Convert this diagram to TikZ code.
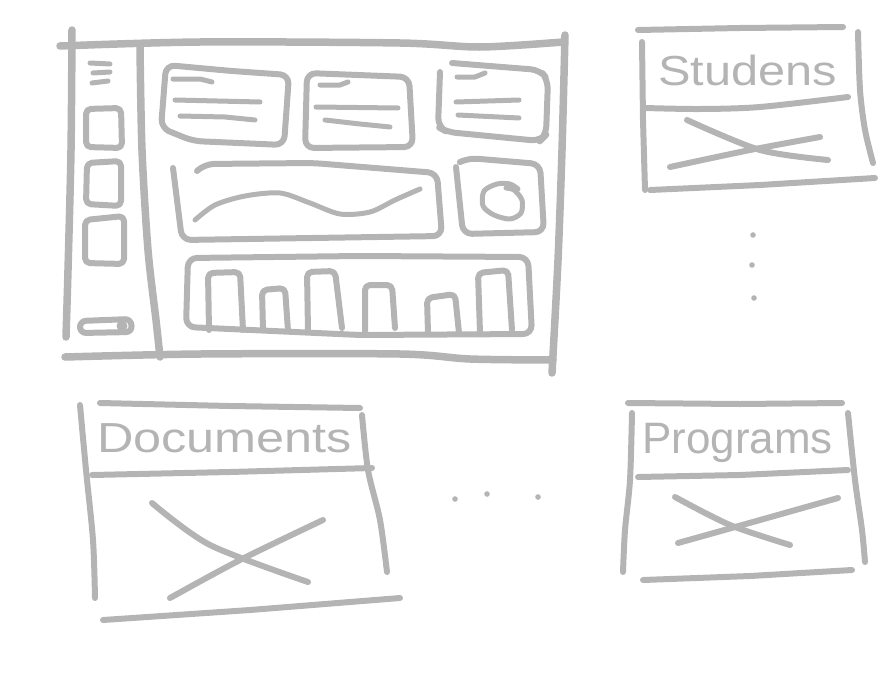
\documentclass[tikz,border=0pt]{standalone}
\usepackage{fontspec}
\usepackage{graphicx}
\setmainfont{Liberation Sans}
\definecolor{pencil}{RGB}{180,180,180}
\begin{document}
\begin{tikzpicture}[x=1pt,y=-1pt,
  stroke/.style={draw=pencil,line width=6pt,line cap=round,line join=round},
  heavy/.style={stroke,line width=7.5pt},
  fine/.style={stroke,line width=5pt},
  card/.style={stroke,rounded corners=9pt},
  bar/.style={stroke,rounded corners=5pt},
  handtext/.style={text=pencil,anchor=base west,inner sep=0pt},
  dot/.style={fill=pencil}]
\useasboundingbox (0,0) rectangle (896,672);

% ---------- dashboard wireframe ----------
% outer frame
\draw[heavy] plot[smooth] coordinates {(60,46) (200,42) (400,43) (480,47) (563,42)};
\draw[heavy] plot[smooth] coordinates {(72,30) (71,150) (68,270) (66,337)};
\draw[heavy] plot[smooth] coordinates {(65,357) (200,354) (400,354) (470,359) (553,360)};
\draw[heavy] plot[smooth] coordinates {(565,35) (562,150) (558,260) (552,373)};
% sidebar divider
\draw[heavy] plot[smooth] coordinates {(140,47) (142,150) (148,250) (156,320) (160,357)};

% sidebar: menu icon, items, toggle
\draw[fine] (90,63) -- (110,64);
\draw[fine] (93,73) -- (110,72);
\draw[fine] (92,83) -- (108,81);
\draw[card,rounded corners=5pt] (86,109) -- (121,108) -- (122,148) -- (86,147) -- cycle;
\draw[card,rounded corners=5pt] (87,163) -- (121,161) -- (121,206) -- (86,204) -- cycle;
\draw[card,rounded corners=5pt] (85,220) -- (124,216) -- (124,264) -- (85,263) -- cycle;
\draw[card,rounded corners=6pt] (80,321) -- (131,319) -- (132,332) -- (80,333) -- cycle;
\fill[dot] (122,326) circle (5.5);

% stat cards
\draw[card] (166,65) -- (232,71) -- (289,75) -- (284,145) -- (193,141) -- (161,128) -- cycle;
\draw[fine] (173,79) -- (200,79) -- (212,82);
\draw[fine] (175,100) -- (260,102);
\draw[fine] (180,116) -- (225,117) -- (255,120);

\draw[card] (307,73) -- (409,77) -- (413,147) -- (305,148) -- cycle;
\draw[fine] (320,85) -- (340,85) -- (348,82);
\draw[fine] (316,107) -- (398,108);
\draw[fine] (325,120) -- (360,124) -- (390,127);

\draw[card] (440,72) -- (438,127) -- (447,132) -- (540,141) -- (546,135) -- (548,80) -- (540,70) -- (452,63);
\draw[fine] (457,77) -- (475,77) -- (485,73);
\draw[fine] (456,102) -- (519,100);
\draw[fine] (458,115) -- (519,118);

% line chart card
\draw[card] (197,171) -- (205,164) -- (313,163) -- (437,173) -- (442,236) -- (182,240) -- (173,168);
\draw[fine] plot[smooth] coordinates {(195,220) (215,205) (245,196) (280,193) (310,203) (340,214) (370,212) (395,200) (420,189)};

% pie chart card
\draw[card] (460,162) -- (468,158) -- (540,164) -- (544,232) -- (463,234) -- (456,167);
\draw[fine] plot[smooth] coordinates {(506,188) (514,190) (522,200) (521,213) (510,219) (494,215) (483,206) (484,191) (497,184) (510,184) (518,189)};

% bar chart card
\draw[card] (188,258) -- (360,256) -- (528,257) -- (532,334) -- (360,335) -- (186,327) -- cycle;
\draw[bar] (209,330) -- (208,273) -- (240,272) -- (243,330);
\draw[bar] (263,330) -- (262,290) -- (285,288) -- (288,331);
\draw[bar] (308,331) -- (307,272) -- (335,271) -- (342,328);
\draw[bar] (365,331) -- (365,285) -- (392,285) -- (395,328);
\draw[bar] (428,333) -- (427,298) -- (455,294) -- (459,333);
\draw[bar] (480,333) -- (478,273) -- (508,270) -- (512,330);

% ---------- "Studens" panel ----------
\draw[stroke] (638,30) -- (740,28) -- (843,27);
\draw[stroke] (642,42) -- (643,120) -- (645,190);
\draw[stroke] plot[smooth] coordinates {(858,32) (860,90) (865,130) (873,163)};
\draw[stroke] plot[smooth] coordinates {(645,108) (700,109) (760,107) (848,97)};
\draw[stroke] (650,190) -- (760,185) -- (875,178);
\draw[stroke] plot[smooth] coordinates {(687,120) (760,150) (828,160)};
\draw[stroke] plot[smooth] coordinates {(670,167) (750,150) (820,137)};
\node[handtext,font=\fontsize{42}{42}\selectfont] (studens) at (658,85) {\scalebox{1.16}[1]{Studens}};

% vertical ellipsis
\fill[dot] (753,235) circle (2.8);
\fill[dot] (752,265) circle (2.8);
\fill[dot] (754,298) circle (2.8);

% ---------- "Documents" panel ----------
\draw[stroke] (100,403) -- (230,406) -- (360,408);
\draw[stroke] plot[smooth] coordinates {(80,405) (86,470) (93,540) (95,598)};
\draw[stroke] plot[smooth] coordinates {(362,415) (368,470) (380,520) (387,572)};
\draw[stroke] (92,475) -- (230,472) -- (372,468);
\draw[stroke] (103,620) -- (250,610) -- (400,598);
\draw[stroke] plot[smooth] coordinates {(152,503) (210,545) (308,582)};
\draw[stroke] plot[smooth] coordinates {(170,598) (240,560) (323,520)};
\node[handtext,font=\fontsize{42}{42}\selectfont] (documents) at (97,452) {\scalebox{1.2}[1]{Documents}};

% horizontal ellipsis
\fill[dot] (455,499) circle (2.8);
\fill[dot] (487,494) circle (2.8);
\fill[dot] (538,497) circle (2.8);

% ---------- "Programs" panel ----------
\draw[stroke] (628,403) -- (740,404) -- (842,403);
\draw[stroke] plot[smooth] coordinates {(632,413) (630,480) (625,530) (623,572)};
\draw[stroke] plot[smooth] coordinates {(848,413) (855,480) (862,530) (865,562)};
\draw[stroke] (638,477) -- (740,475) -- (848,470);
\draw[stroke] (643,580) -- (750,576) -- (852,570);
\draw[stroke] plot[smooth] coordinates {(675,497) (730,525) (790,545)};
\draw[stroke] plot[smooth] coordinates {(678,543) (760,520) (838,498)};
\node[handtext,font=\fontsize{44}{44}\selectfont] (programs) at (642,453) {Programs};
\end{tikzpicture}
\end{document}
